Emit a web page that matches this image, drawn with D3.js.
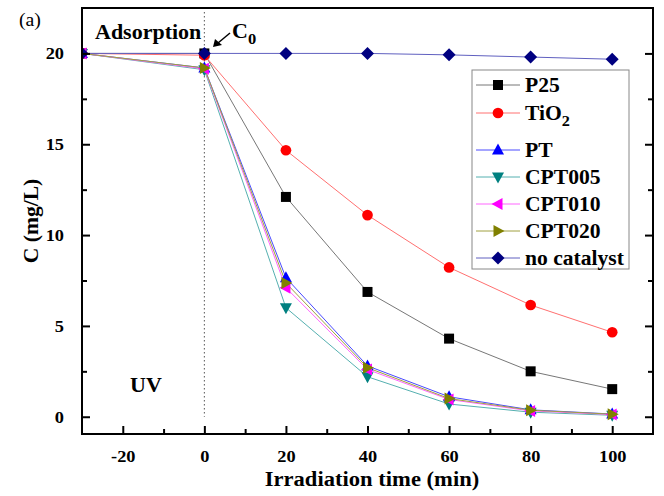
<!DOCTYPE html>
<html>
<head>
<meta charset="utf-8">
<script src="https://cdn.jsdelivr.net/npm/d3@7"></script>
<style>
  body { margin: 0; background: #fff; }
  text { font-family: "Liberation Serif", "Times New Roman", serif; }
</style>
</head>
<body>
<div id="chart"></div>
<script>
// datos
var times = [-30, 0, 20, 40, 60, 80, 100];
var p25 = [20, 20, 12.1, 6.87, 4.3, 2.5, 1.52];
var tio2 = [20, 19.9, 14.67, 11.1, 8.22, 6.15, 4.65];
var pt = [20, 19.2, 7.65, 2.8, 1.1, 0.38, 0.15];
var cpt005 = [20, 19.1, 6.0, 2.2, 0.7, 0.25, 0.08];
var cpt010 = [20, 19.15, 7.1, 2.6, 0.95, 0.32, 0.12];
var cpt020 = [20, 19.2, 7.36, 2.7, 1.0, 0.36, 0.14];
var noCatalyst = [20, 20, 20, 20, 19.92, 19.8, 19.68];
var xTicks = [-20, 0, 20, 40, 60, 80, 100];
var yTicks = [0, 5, 10, 15, 20];

var series = [
  {name: "P25", values: p25, color: "#000000", line: "#777777", shape: "square"},
  {name: "TiO2", values: tio2, color: "#ff0000", line: "#ff7070", shape: "circle"},
  {name: "PT", values: pt, color: "#0000ff", line: "#4a4aff", shape: "up"},
  {name: "CPT005", values: cpt005, color: "#008080", line: "#55b0b0", shape: "down"},
  {name: "CPT010", values: cpt010, color: "#ff00ff", line: "#ff66ff", shape: "left"},
  {name: "CPT020", values: cpt020, color: "#808000", line: "#a0a040", shape: "right"},
  {name: "no catalyst", values: noCatalyst, color: "#000080", line: "#6060c0", shape: "diamond"}
];

var width = 664, height = 496;
var pLeft = 82, pRight = 653, pTop = 8, pBottom = 434;

var svg = d3.select("#chart").append("svg")
  .attr("width", width).attr("height", height);

var x = d3.scaleLinear().domain([-30, 110]).range([pLeft, pRight]);
var y = d3.scaleLinear().domain([-0.95, 22.5]).range([pBottom, pTop]);

// texto un poco ensanchado (como en la figura original)
function addText(parent, px, py, str, font, sx) {
  return parent.append("text")
    .attr("transform", "translate(" + px + "," + py + ") scale(" + sx + ",1)")
    .style("font", font)
    .text(str);
}

// clip
svg.append("clipPath").attr("id", "clip")
  .append("rect").attr("x", pLeft).attr("y", pTop)
  .attr("width", pRight - pLeft).attr("height", pBottom - pTop);

// linea punteada en t=0
svg.append("line")
  .attr("x1", x(0)).attr("x2", x(0))
  .attr("y1", pTop + 4).attr("y2", y(0))
  .attr("stroke", "#555").attr("stroke-width", 1)
  .attr("stroke-dasharray", "1.5,2.5");

function markerPath(shape) {
  if (shape === "square") return "M-5,-5H5V5H-5Z";
  if (shape === "circle") return d3.symbol(d3.symbolCircle, 90)();
  if (shape === "up") return "M0,-6.5L6,4.5H-6Z";
  if (shape === "down") return "M0,6.5L6,-4.5H-6Z";
  if (shape === "left") return "M-6.5,0L4.5,-6V6Z";
  if (shape === "right") return "M6.5,0L-4.5,-6V6Z";
  return "M0,-6.5L6.5,0L0,6.5L-6.5,0Z";
}

var plot = svg.append("g").attr("clip-path", "url(#clip)");
var line = d3.line().x((d, i) => x(times[i])).y(d => y(d));

series.forEach(function(s) {
  plot.append("path")
    .attr("d", line(s.values))
    .attr("fill", "none")
    .attr("stroke", s.line)
    .attr("stroke-width", 1);
});
series.forEach(function(s) {
  plot.selectAll(null)
    .data(s.values)
    .enter()
    .append("path")
    .attr("transform", (d, i) => "translate(" + x(times[i]) + "," + y(d) + ")")
    .attr("d", markerPath(s.shape))
    .attr("fill", s.color);
});

// ejes
var fontTick = "bold 17px 'Liberation Serif'";
var tickStretch = 1.08;
var xAxis = svg.append("g")
  .attr("transform", "translate(0," + pBottom + ")")
  .call(d3.axisBottom(x).tickValues(xTicks).tickSizeInner(-8).tickSizeOuter(0).tickPadding(16).tickFormat(d => String(d)));
var xMinor = svg.append("g")
  .attr("transform", "translate(0," + pBottom + ")")
  .call(d3.axisBottom(x).tickValues([-10, 10, 30, 50, 70, 90]).tickSizeInner(-5).tickSizeOuter(0).tickFormat(""));
var yAxis = svg.append("g")
  .attr("transform", "translate(" + pLeft + ",0)")
  .call(d3.axisLeft(y).tickValues(yTicks).tickSizeInner(-8).tickSizeOuter(0).tickPadding(18));
var yMinor = svg.append("g")
  .attr("transform", "translate(" + pLeft + ",0)")
  .call(d3.axisLeft(y).tickValues([2.5, 7.5, 12.5, 17.5]).tickSizeInner(-5).tickSizeOuter(0).tickFormat(""));
var yRight = svg.append("g")
  .attr("transform", "translate(" + pRight + ",0)")
  .call(d3.axisRight(y).tickValues(yTicks).tickSizeInner(-8).tickSizeOuter(0).tickFormat(""));
var yRightMinor = svg.append("g")
  .attr("transform", "translate(" + pRight + ",0)")
  .call(d3.axisRight(y).tickValues([2.5, 7.5, 12.5, 17.5]).tickSizeInner(-5).tickSizeOuter(0).tickFormat(""));

svg.selectAll(".domain").remove();
svg.selectAll(".tick line").attr("stroke", "#000").attr("stroke-width", 2);
svg.selectAll(".tick text").style("font", fontTick).attr("fill", "#000")
  .attr("transform", "scale(" + tickStretch + ",1)");
yAxis.selectAll(".tick text").attr("x", -18 / tickStretch);

// marco
svg.append("rect")
  .attr("x", pLeft).attr("y", pTop)
  .attr("width", pRight - pLeft).attr("height", pBottom - pTop)
  .attr("fill", "none").attr("stroke", "#000").attr("stroke-width", 2);

// titulos
addText(svg, 372, 486, "Irradiation time (min)", "bold 20px 'Liberation Serif'", 1.13)
  .attr("text-anchor", "middle");

svg.append("text")
  .attr("transform", "translate(38," + ((pTop + pBottom) / 2) + ") rotate(-90) scale(1.08,1)")
  .attr("text-anchor", "middle")
  .style("font", "bold 20px 'Liberation Serif'")
  .text("C (mg/L)");

addText(svg, 19, 26, "(a)", "18px 'Liberation Serif'", 1.1);

addText(svg, 95, 39, "Adsorption", "bold 20px 'Liberation Serif'", 1.1);

var c0 = addText(svg, 232, 38, "", "bold 20px 'Liberation Serif'", 1.1);
c0.append("tspan").text("C");
c0.append("tspan").attr("dy", 6).style("font-size", "15px").text("0");

addText(svg, 130, 392, "UV", "bold 20px 'Liberation Serif'", 1.1);

// flecha C0
svg.append("line")
  .attr("x1", 230).attr("y1", 33).attr("x2", 218).attr("y2", 43)
  .attr("stroke", "#000").attr("stroke-width", 1.5);
svg.append("path")
  .attr("d", "M213,47L215,39L222,45Z")
  .attr("fill", "#000");

// leyenda
var legendY = [85, 113, 150, 177, 204, 231, 258];
var legend = svg.append("g");
legend.append("rect")
  .attr("x", 472).attr("y", 70).attr("width", 157).attr("height", 199)
  .attr("fill", "#fff").attr("stroke", "#888").attr("stroke-width", 1);

series.forEach(function(s, i) {
  var g = legend.append("g").attr("transform", "translate(0," + legendY[i] + ")");
  g.append("line").attr("x1", 476).attr("x2", 520).attr("y1", 0).attr("y2", 0)
    .attr("stroke", s.line).attr("stroke-width", 1);
  g.append("path").attr("transform", "translate(498,0)")
    .attr("d", markerPath(s.shape)).attr("fill", s.color);
  var t = addText(g, 525, 7, "", "bold 20px 'Liberation Serif'", 1.08);
  if (s.name === "TiO2") {
    t.append("tspan").text("TiO");
    t.append("tspan").attr("dy", 6).style("font-size", "15px").text("2");
  } else {
    t.text(s.name);
  }
});
</script>
</body>
</html>
